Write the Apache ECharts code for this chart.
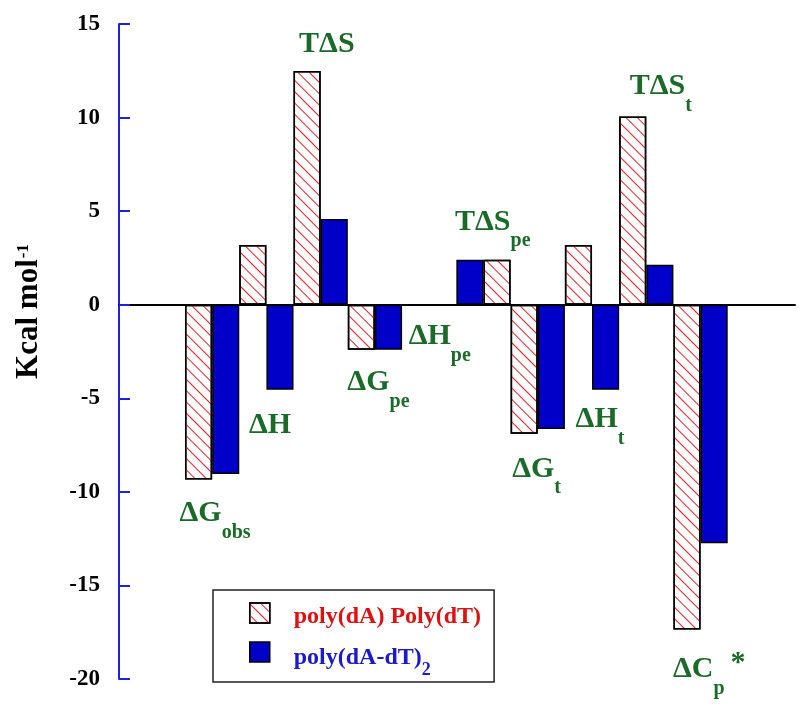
<!DOCTYPE html>
<html>
<head>
<meta charset="utf-8">
<script src="https://cdn.jsdelivr.net/npm/echarts@6/dist/echarts.min.js"></script>
<style>
html,body{margin:0;padding:0;background:#fff;}
#chart{width:800px;height:708px;}
</style>
</head>
<body>
<div id="chart"></div>
<script>
// ---- data ----
const groupMain = ['ΔG', 'ΔH', 'TΔS', 'ΔG', 'ΔH', 'TΔS', 'ΔG', 'ΔH', 'TΔS', 'ΔC'];
const groupSub  = ['obs', '', '', 'pe', 'pe', 'pe', 't', 't', 't', 'p'];
const groupSup  = ['', '', '', '', '', '', '', '', '', '*'];
const polyAT    = [-9.34, 3.19, 12.49, -2.40, 0, 2.40, -6.90, 3.19, 10.06, -17.35];   // poly(dA) Poly(dT)
const polyATalt = [-9.04, -4.54, 4.58, -2.40, 0, 2.40, -6.64, -4.54, 2.14, -12.74];   // poly(dA-dT)2
const altFirst  = [false, false, false, false, false, true, false, false, false, false];
const yTicks    = [-20, -15, -10, -5, 0, 5, 10, 15];
const seriesNames = ['poly(dA) Poly(dT)', 'poly(dA-dT)2'];

// ---- label placement (styling) ----
const labelAnchor = ['a', 'b', 'a', 'a', 'a', 'a', 'a', 'b', 'a', 'a'];
const labelPos    = ['bottom', 'bottom', 'top', 'bottom', 'bottom', 'top', 'bottom', 'bottom', 'top', 'bottom'];
const labelOffset = [[-19, 19], [-31, 21], [-8, -12], [-14, 18], [-7, 16], [-42, -23], [-12, 20], [-30, 15], [-3, -15], [-14, 25]];

const SERIF = '"Liberation Serif","Times New Roman",serif';
const GREEN = '#1a6a28';

function labelText(i) {
  let s = '{m|' + groupMain[i] + '}';
  if (groupSub[i]) s += '{s|' + groupSub[i] + '}';
  if (groupSup[i]) s += '{a|' + groupSup[i] + '}';
  return s;
}

function buildData(values, which) {
  const out = [];
  values.forEach(function (v, i) {
    if (v === null) return;
    const first = (which === 'a') ? !altFirst[i] : altFirst[i];
    const slot = 2 * i + (first ? 0 : 1);
    const item = { value: [slot + 0.5, v] };
    if (labelAnchor[i] === which) {
      item.label = {
        show: true,
        position: labelPos[i],
        distance: 0,
        align: 'left',
        offset: labelOffset[i],
        formatter: labelText(i)
      };
    }
    out.push(item);
  });
  return out;
}

const richLabel = {
  m: { fontFamily: SERIF, fontWeight: 'bold', fontSize: 30, lineHeight: 30, color: GREEN, verticalAlign: 'middle' },
  s: { fontFamily: SERIF, fontWeight: 'bold', fontSize: 20, lineHeight: 20, color: GREEN, padding: [38, 0, 0, 0], verticalAlign: 'middle' },
  a: { fontFamily: SERIF, fontWeight: 'bold', fontSize: 30, lineHeight: 30, color: GREEN, padding: [0, 0, 13, 6], verticalAlign: 'middle' }
};

const chart = echarts.init(document.getElementById('chart'), null, { renderer: 'canvas' });
chart.setOption({
  animation: false,
  backgroundColor: '#fff',
  grid: { left: 119, right: 5, top: 24, bottom: 29, containLabel: false },
  legend: {
    orient: 'vertical',
    left: 213,
    top: 590,
    height: 110,
    padding: [7, 13, 3, 36],
    itemWidth: 20,
    itemHeight: 20,
    itemGap: -4,
    icon: 'rect',
    borderColor: '#222',
    borderWidth: 1.5,
    selectedMode: false,
    itemStyle: { borderColor: '#000', borderWidth: 1.5 },
    data: seriesNames,
    formatter: function (name) {
      if (name === seriesNames[0]) return '{r|poly(dA) Poly(dT)}';
      return '{b|poly(dA-dT)}{s|2}';
    },
    textStyle: {
      fontFamily: SERIF, fontWeight: 'bold', fontSize: 24,
      rich: {
        r: { fontFamily: SERIF, fontWeight: 'bold', fontSize: 24, lineHeight: 24, color: '#dd1111', padding: [8, 0, 0, 19], verticalAlign: 'middle' },
        b: { fontFamily: SERIF, fontWeight: 'bold', fontSize: 24, lineHeight: 24, color: '#1a1acc', padding: [12, 0, 0, 19], verticalAlign: 'middle' },
        s: { fontFamily: SERIF, fontWeight: 'bold', fontSize: 18, lineHeight: 18, color: '#1a1acc', padding: [36, 0, 0, 0], verticalAlign: 'middle' }
      }
    }
  },
  xAxis: {
    type: 'value',
    min: -2.432,
    max: 22.48,
    axisLine: { show: true, onZero: true, lineStyle: { color: '#000', width: 2 } },
    axisTick: { show: false },
    axisLabel: { show: false },
    splitLine: { show: false }
  },
  yAxis: {
    type: 'value',
    min: yTicks[0],
    max: yTicks[yTicks.length - 1],
    interval: 5,
    name: '{t|Kcal mol}{u|-1}',
    nameLocation: 'middle',
    nameRotate: 90,
    nameGap: 75,
    nameTextStyle: {
      padding: [0, 0, 0, 80],
      rich: {
        t: { fontFamily: SERIF, fontWeight: 'bold', fontSize: 31, lineHeight: 31, color: '#000', verticalAlign: 'middle' },
        u: { fontFamily: SERIF, fontWeight: 'bold', fontSize: 17, lineHeight: 17, color: '#000', padding: [0, 0, 10, 1], verticalAlign: 'middle' }
      }
    },
    axisLine: { show: true, onZero: false, lineStyle: { color: '#2020e0', width: 2 } },
    axisTick: { show: true, inside: true, length: 11, lineStyle: { color: '#2020e0', width: 2 } },
    axisLabel: { margin: 19, color: '#000', fontFamily: SERIF, fontWeight: 'bold', fontSize: 23 },
    splitLine: { show: false }
  },
  series: [
    {
      name: seriesNames[0],
      type: 'bar',
      barGap: '-100%',
      barCategoryGap: '0%',
      itemStyle: {
        color: '#ffffff',
        borderColor: '#000',
        borderWidth: 1.5,
        decal: {
          symbol: 'rect',
          symbolSize: 1,
          color: '#e8202a',
          dashArrayX: [1, 0],
          dashArrayY: [1, 7],
          rotation: Math.PI / 4
        }
      },
      label: { rich: richLabel },
      data: buildData(polyAT, 'a')
    },
    {
      name: seriesNames[1],
      type: 'bar',
      barGap: '-100%',
      barCategoryGap: '0%',
      itemStyle: { color: '#0000c8', borderColor: '#000', borderWidth: 1.5 },
      label: { rich: richLabel },
      data: buildData(polyATalt, 'b')
    }
  ]
});
</script>
</body>
</html>
